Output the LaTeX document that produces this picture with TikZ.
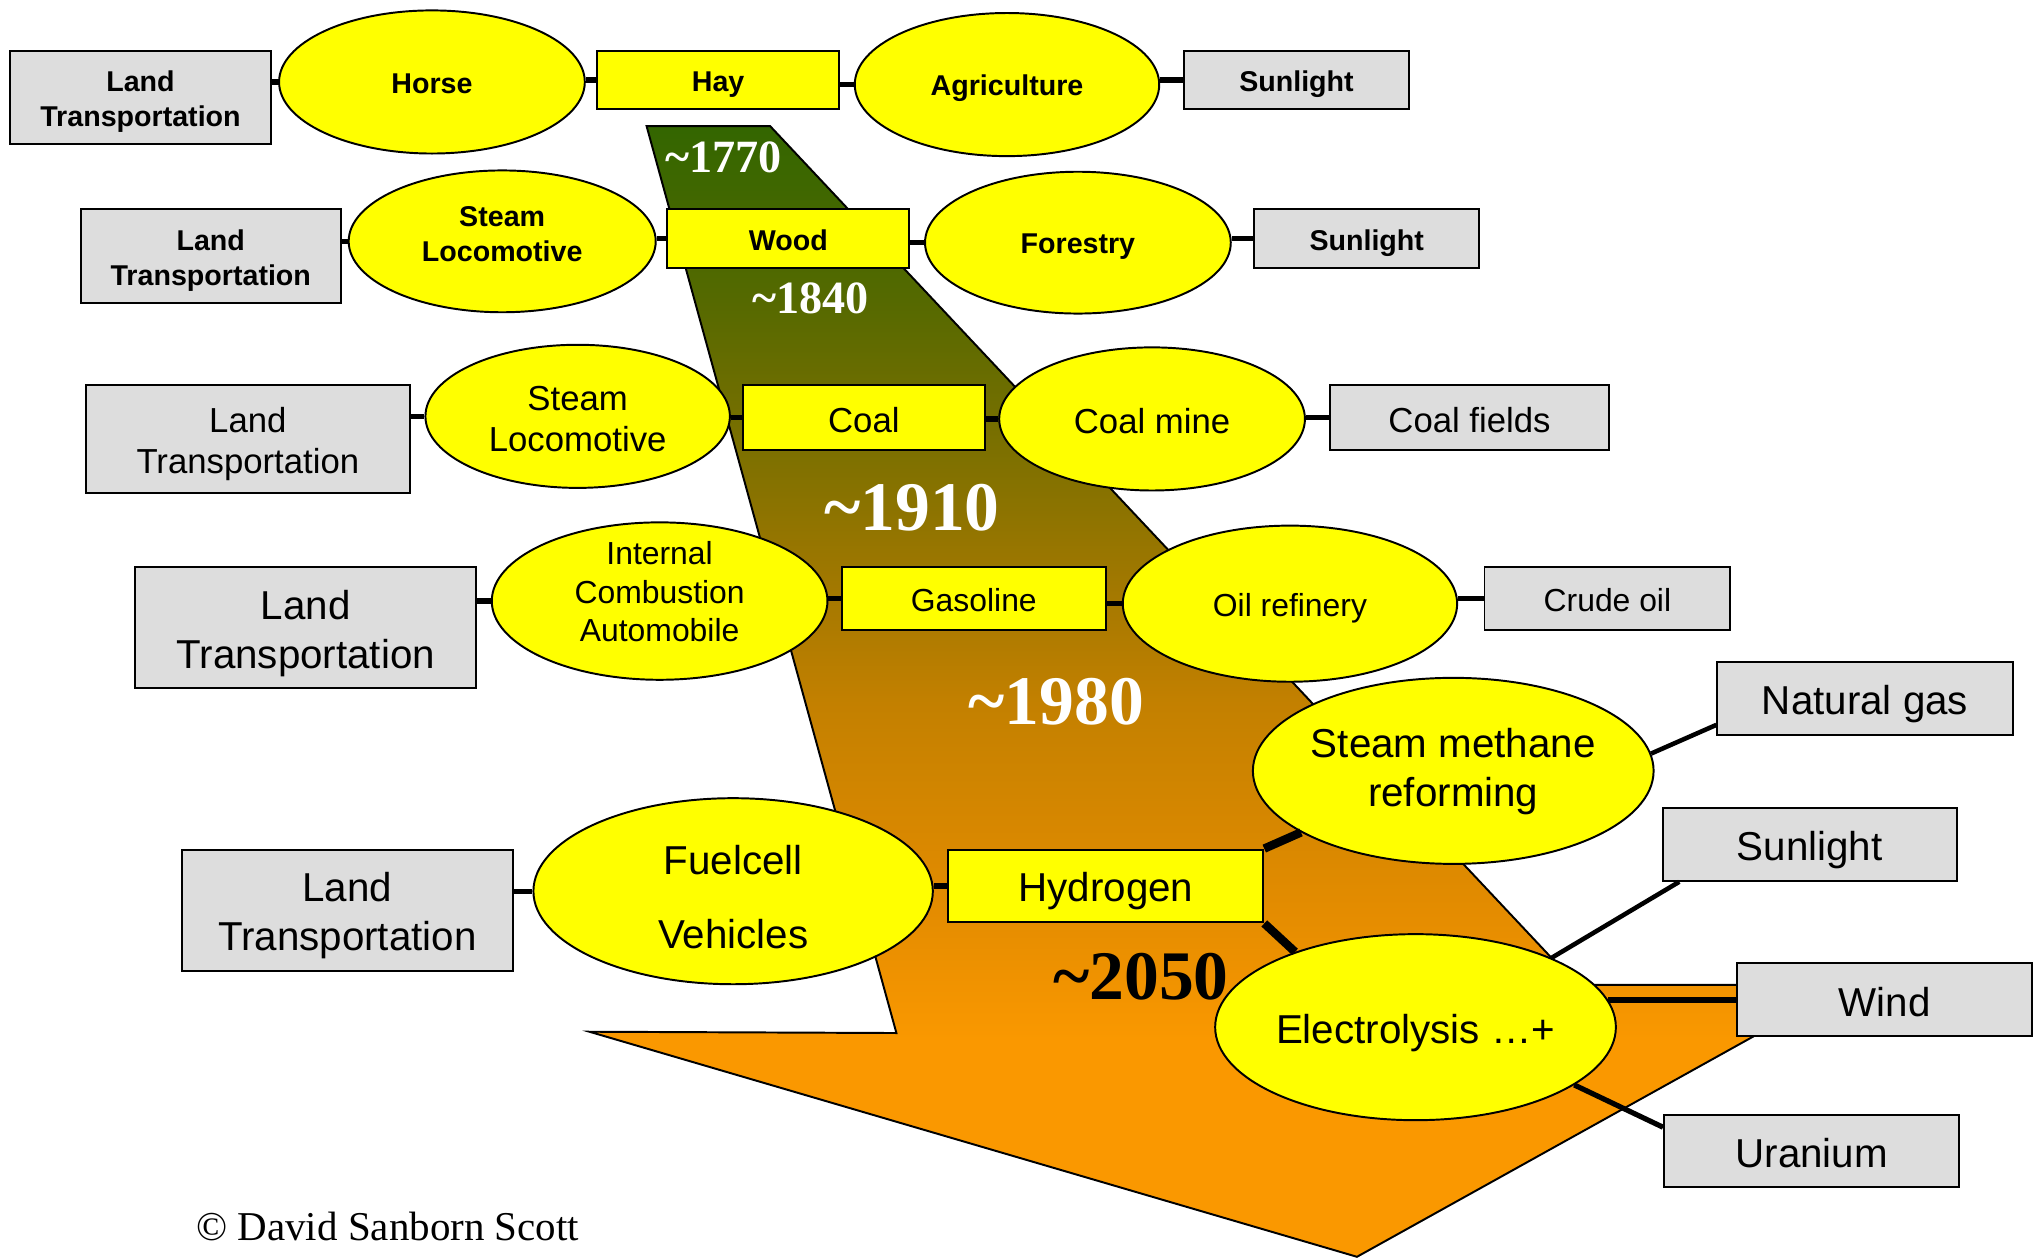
\documentclass[tikz,border=0pt]{standalone}
\usepackage{fontspec}
\setmainfont{Liberation Sans}
\newfontfamily\yearfont{Liberation Serif}
\usepackage{tikz}
\usetikzlibrary{shapes.geometric}

\definecolor{boxgray}{RGB}{221,221,221}
\definecolor{fuelyellow}{RGB}{255,255,0}
\definecolor{eraorange}{RGB}{250,152,0}
\definecolor{eraamber}{RGB}{228,140,0}
\definecolor{erabrown}{RGB}{195,128,0}
\definecolor{eraolive}{RGB}{140,115,0}
\definecolor{eramoss}{RGB}{85,105,0}
\definecolor{eragreen}{RGB}{51,102,0}
\pgfdeclareverticalshading{erafade}{100bp}{color(0bp)=(eraorange); color(34.6bp)=(eraorange);
  color(40.3bp)=(eraamber); color(49.5bp)=(erabrown); color(58.1bp)=(eraolive);
  color(67.3bp)=(eramoss); color(75bp)=(eragreen); color(100bp)=(eragreen)}
% top strut for the first line of a two-line label
\newcommand\linetop[1][1em]{\rule{0pt}{#1}}

\begin{document}
\begin{tikzpicture}[x=1pt,y=-1pt,
	textmid/.style={execute at begin node={\rule[-0.16em]{0pt}{1.16em}},
		execute at end node={\rule[-0.16em]{0pt}{0.16em}}},
	lift/.style={execute at end node={\rule[-#1]{0pt}{#1}}},
	landbox/.style={draw, line width=1.5pt, fill=boxgray, inner sep=0pt, align=center, textmid},
	fuelbox/.style={landbox, fill=fuelyellow},
	stage/.style={ellipse, draw, line width=1.5pt, fill=fuelyellow, inner sep=0pt, align=center, textmid},
	dims/.style 2 args={minimum width=#1pt, minimum height=#2pt},
	rowa/.style={font=\fontsize{22}{27}\selectfont\bfseries},
	rowb/.style={font=\fontsize{26.7}{32}\selectfont},
	rowc/.style={font=\fontsize{24.5}{29.5}\selectfont},
	rowd/.style={font=\fontsize{31}{38}\selectfont},
	link/.style={line width=4pt},
	feed/.style={line width=3.5pt},
	year/.style={font=\yearfont\bfseries\fontsize{#1}{#1}\selectfont, text=white, inner sep=0pt}]
		\useasboundingbox (0,0) rectangle (1568,967);
		% Arrow corners
		\coordinate (T1) at (497,97);
		\coordinate (T2) at (592,97);
		\coordinate (R1) at (1212,757);
		\coordinate (R2) at (1419,757);
		\coordinate (Tip) at (1043,966);
		\coordinate (N1) at (453,793);
		\coordinate (N2) at (689,794);
		% Time arrow
		\shadedraw[shading=erafade, line width=1.5pt] (T1)--(T2)--(R1)--(R2)--(Tip)--(N1)--(N2)--cycle;
		% Years
		\node[year=35.5] (y1770) at (556,121) {\textasciitilde1770};
		\node[year=35.5] (y1840) at (623,229) {\textasciitilde1840};
		\node[year=53.5] (y1910) at (701,390) {\textasciitilde1910};
		\node[year=53.5] (y1980) at (812,539) {\textasciitilde1980};
		\node[year=53.5, text=black] (y2050) at (877,751) {\textasciitilde2050};
		% Row 1
		\node[landbox, dims={200}{72}, rowa] (lt1) at (108,75) {\linetop Land\\Transportation};
		\node[stage, dims={235}{110}, rowa] (horse) at (332,63) {Horse};
		\node[fuelbox, dims={186}{45}, rowa] (hay) at (552,61.5) {Hay};
		\node[stage, dims={234}{110}, rowa] (agri) at (774,65) {Agriculture};
		\node[landbox, dims={173}{45}, rowa] (sun1) at (996.5,61.5) {Sunlight};
		% Row 2
		\node[landbox, dims={200}{72}, rowa] (lt2) at (162,197) {\linetop Land\\Transportation};
		\node[stage, dims={236}{109}, rowa, lift=18pt] (steam2) at (386,185.5) {\linetop Steam\\Locomotive};
		\node[fuelbox, dims={186}{45}, rowa] (wood) at (606,183.5) {Wood};
		\node[stage, dims={235}{109}, rowa] (forest) at (828.5,186.5) {Forestry};
		\node[landbox, dims={173}{45}, rowa] (sun2) at (1050.5,183.5) {Sunlight};
		% Row 3
		\node[landbox, dims={249}{83}, rowb] (lt3) at (190.5,337.5) {\linetop Land\\Transportation};
		\node[stage, dims={234}{110}, rowb] (steam3) at (444,320) {\linetop Steam\\Locomotive};
		\node[fuelbox, dims={186}{50}, rowb] (coal) at (664,321) {Coal};
		\node[stage, dims={235}{110}, rowb] (mine) at (885.5,322) {Coal mine};
		\node[landbox, dims={215}{50}, rowb] (fields) at (1129.5,321) {Coal fields};
		% Row 4
		\node[landbox, dims={262}{93}, rowd] (lt4) at (235,482.5) {\linetop Land\\Transportation};
		\node[stage, dims={258}{121}, rowc, lift=21pt, inner ysep=-10pt] (ice) at (507,462) {\linetop Internal\\Combustion\\Automobile};
		\node[fuelbox, dims={203}{48}, rowc] (gas) at (748.5,460) {Gasoline};
		\node[stage, dims={257}{120}, rowc] (refinery) at (991.5,464) {Oil refinery};
		\node[landbox, dims={189}{48}, rowc] (crude) at (1235.5,460) {Crude oil};
		% Row 5
		\node[landbox, dims={254}{93}, rowd] (lt5) at (267,699.5) {\linetop Land\\Transportation};
		\node[stage, dims={307}{143}, font=\fontsize{31}{57}\selectfont] (fcv) at (563.5,685) {\linetop[36pt]Fuelcell\\Vehicles};
		\node[fuelbox, dims={242}{56}, rowd] (hyd) at (850,681) {Hydrogen};
		\node[stage, dims={308}{143}, rowd, inner xsep=-3pt, lift=14pt] (smr) at (1117,592.5) {\linetop Steam methane\\reforming};
		\node[stage, dims={308}{143}, rowd] (ely) at (1088,789.5) {Electrolysis …+};
		\node[landbox, dims={227}{56}, rowd] (ng) at (1433.5,537) {Natural gas};
		\node[landbox, dims={226}{56}, rowd] (sun5) at (1391,649) {Sunlight};
		\node[landbox, dims={227}{56}, rowd] (wind) at (1448.5,768) {Wind};
		\node[landbox, dims={227}{55}, rowd] (ura) at (1392.5,884.5) {Uranium};
		% Row links
		\foreach \a/\b in {lt1/horse, horse/hay, hay/agri, agri/sun1,
				lt2/steam2, steam2/wood, wood/forest, forest/sun2,
				lt3/steam3, steam3/coal, coal/mine, mine/fields,
				lt4/ice, ice/gas, gas/refinery, refinery/crude,
				lt5/fcv, fcv/hyd}{
				\draw[link] (\b.west) -- (\b.west -| \a.east);
			}
		% Hydrogen sources
		\draw[line width=6.5pt] (hyd.north east) -- (smr.202);
		\draw[line width=6.5pt] (hyd.south east) -- (ely.148);
		\draw[feed] (smr.5) -- (ng.190);
		\draw[feed] (ely.27) -- (sun5.196);
		\draw[link] (ely.8) -- (ely.8 -| wind.west);
		\draw[link] (ely.-20) -- (ura.171);
		% Credit
		\node[font=\yearfont\fontsize{31.5}{36}\selectfont] (credit) at (298,943) {© David Sanborn Scott};
	\end{tikzpicture}
\end{document}
